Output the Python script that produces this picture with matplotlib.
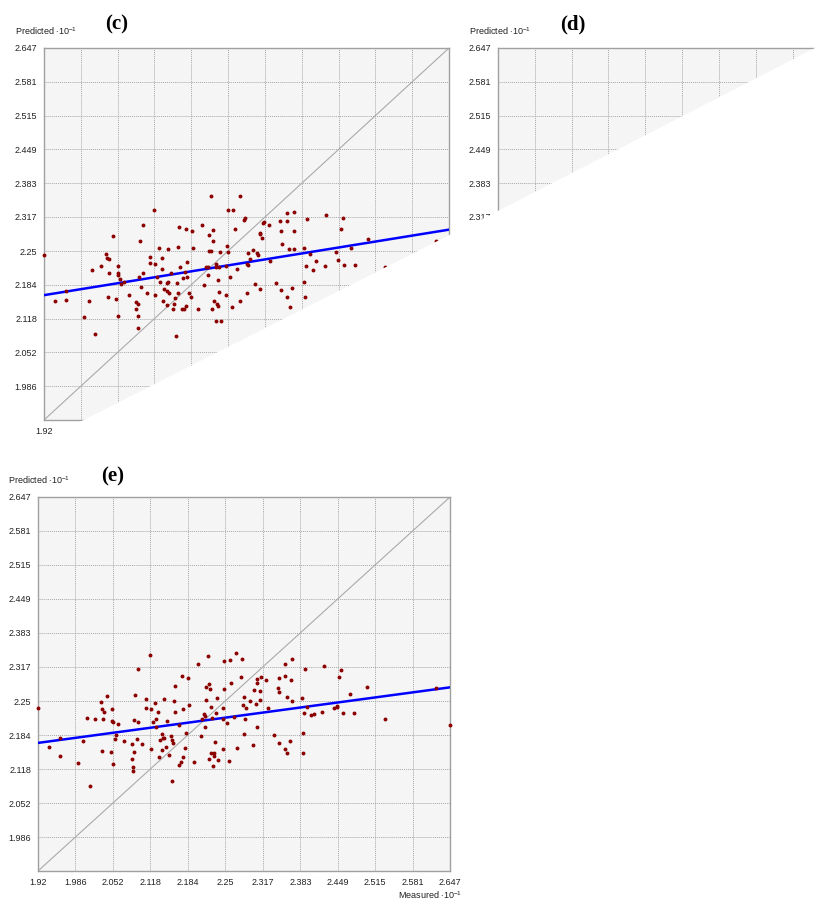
import numpy as np
import matplotlib.pyplot as plt
from matplotlib.patches import Polygon

plt.rcParams['font.family'] = ['Liberation Sans', 'DejaVu Sans']
plt.rcParams['mathtext.fontset'] = 'custom'
plt.rcParams['mathtext.rm'] = 'Liberation Sans'

# axis ticks (same on both axes)
tick_labels = ["1.92", "1.986", "2.052", "2.118", "2.184", "2.25",
               "2.317", "2.383", "2.449", "2.515", "2.581", "2.647"]
tick_values = [float(t) for t in tick_labels]

# panel (c) data (visible points)
c_measured = [
    1.920, 1.940, 1.960, 1.960, 1.991, 2.000, 2.007, 2.012, 2.022, 2.032,
    2.033, 2.037, 2.034, 2.037, 2.043, 2.050, 2.052, 2.052, 2.053, 2.053,
    2.056, 2.059, 2.063, 2.073, 2.086, 2.088, 2.086, 2.088, 2.089, 2.090,
    2.092, 2.094, 2.098, 2.098, 2.104, 2.111, 2.111, 2.117, 2.119, 2.119,
    2.123, 2.127, 2.128, 2.131, 2.132, 2.134, 2.135, 2.140, 2.140, 2.141,
    2.143, 2.143, 2.144, 2.148, 2.152, 2.153, 2.156, 2.157, 2.159, 2.160,
    2.161, 2.162, 2.164, 2.168, 2.170, 2.172, 2.173, 2.175, 2.175, 2.177,
    2.177, 2.180, 2.184, 2.186, 2.188, 2.196, 2.203, 2.208, 2.211, 2.214,
    2.215, 2.216, 2.217, 2.219, 2.220, 2.222, 2.223, 2.224, 2.225, 2.228,
    2.228, 2.229, 2.231, 2.232, 2.232, 2.234, 2.235, 2.236, 2.238, 2.247,
    2.247, 2.249, 2.250, 2.251, 2.254, 2.257, 2.260, 2.262, 2.266, 2.271,
    2.272, 2.279, 2.280, 2.284, 2.285, 2.286, 2.287, 2.289, 2.295, 2.299,
    2.302, 2.304, 2.307, 2.308, 2.308, 2.311, 2.313, 2.315, 2.324, 2.326,
    2.336, 2.344, 2.345, 2.345, 2.347, 2.356, 2.356, 2.357, 2.360, 2.362,
    2.366, 2.368, 2.368, 2.369, 2.387, 2.387, 2.389, 2.390, 2.392, 2.397,
    2.402, 2.408, 2.424, 2.426, 2.445, 2.448, 2.453, 2.456, 2.459, 2.471,
    2.479, 2.502, 2.533, 2.624]
c_predicted = [
    2.243, 2.152, 2.173, 2.155, 2.121, 2.152, 2.214, 2.088, 2.221, 2.245,
    2.237, 2.235, 2.161, 2.207, 2.279, 2.157, 2.221, 2.207, 2.124, 2.204,
    2.195, 2.185, 2.189, 2.165, 2.150, 2.147, 2.136, 2.099, 2.124, 2.199,
    2.270, 2.180, 2.301, 2.207, 2.168, 2.238, 2.226, 2.330, 2.224, 2.164,
    2.200, 2.256, 2.189, 2.215, 2.237, 2.152, 2.176, 2.173, 2.145, 2.188,
    2.189, 2.255, 2.169, 2.208, 2.137, 2.147, 2.158, 2.084, 2.188, 2.168,
    2.258, 2.297, 2.219, 2.136, 2.198, 2.136, 2.210, 2.294, 2.142, 2.200,
    2.229, 2.168, 2.161, 2.289, 2.256, 2.137, 2.301, 2.183, 2.219, 2.219,
    2.204, 2.251, 2.282, 2.250, 2.358, 2.136, 2.292, 2.270, 2.152, 2.219,
    2.224, 2.113, 2.146, 2.143, 2.194, 2.219, 2.170, 2.249, 2.114, 2.164,
    2.221, 2.261, 2.249, 2.330, 2.199, 2.140, 2.330, 2.294, 2.215, 2.358,
    2.152, 2.310, 2.314, 2.169, 2.225, 2.247, 2.223, 2.235, 2.253, 2.186,
    2.247, 2.243, 2.284, 2.176, 2.286, 2.275, 2.305, 2.306, 2.301, 2.230,
    2.188, 2.309, 2.174, 2.289, 2.264, 2.325, 2.309, 2.161, 2.254, 2.140,
    2.178, 2.289, 2.254, 2.326, 2.257, 2.189, 2.161, 2.221, 2.312, 2.245,
    2.214, 2.230, 2.221, 2.320, 2.249, 2.232, 2.294, 2.314, 2.222, 2.256,
    2.222, 2.273, 2.219, 2.269]
c_fit_x = [1.92, 2.647]
c_fit_y = [2.164, 2.292]

# panel (e) data
e_measured = [
    1.920, 1.939, 1.959, 1.959, 1.991, 1.999, 2.006, 2.011, 2.021, 2.032,
    2.033, 2.033, 2.035, 2.036, 2.042, 2.049, 2.051, 2.051, 2.052, 2.053,
    2.056, 2.057, 2.062, 2.072, 2.086, 2.086, 2.088, 2.088, 2.090, 2.090,
    2.091, 2.095, 2.096, 2.096, 2.103, 2.110, 2.111, 2.117, 2.119, 2.119,
    2.123, 2.126, 2.128, 2.129, 2.132, 2.133, 2.135, 2.138, 2.139, 2.141,
    2.142, 2.143, 2.145, 2.147, 2.152, 2.154, 2.156, 2.157, 2.159, 2.160,
    2.162, 2.162, 2.169, 2.169, 2.173, 2.174, 2.175, 2.176, 2.179, 2.182,
    2.185, 2.187, 2.196, 2.203, 2.208, 2.209, 2.213, 2.214, 2.215, 2.216,
    2.217, 2.220, 2.221, 2.222, 2.223, 2.225, 2.226, 2.227, 2.229, 2.230,
    2.230, 2.233, 2.234, 2.235, 2.238, 2.247, 2.247, 2.247, 2.249, 2.249,
    2.254, 2.257, 2.259, 2.261, 2.265, 2.270, 2.271, 2.279, 2.280, 2.281,
    2.283, 2.284, 2.286, 2.287, 2.294, 2.299, 2.301, 2.304, 2.306, 2.307,
    2.307, 2.311, 2.312, 2.314, 2.323, 2.326, 2.337, 2.344, 2.345, 2.346,
    2.346, 2.355, 2.356, 2.356, 2.360, 2.360, 2.365, 2.366, 2.368, 2.368,
    2.386, 2.387, 2.387, 2.389, 2.391, 2.395, 2.402, 2.407, 2.422, 2.425,
    2.443, 2.447, 2.448, 2.451, 2.454, 2.458, 2.470, 2.477, 2.500, 2.532,
    2.622, 2.647]
e_predicted = [
    2.236, 2.161, 2.179, 2.144, 2.130, 2.173, 2.218, 2.086, 2.215, 2.248,
    2.234, 2.154, 2.216, 2.230, 2.260, 2.152, 2.234, 2.211, 2.209, 2.128,
    2.176, 2.184, 2.206, 2.173, 2.166, 2.138, 2.123, 2.114, 2.213, 2.152,
    2.263, 2.176, 2.209, 2.312, 2.166, 2.236, 2.255, 2.340, 2.234, 2.158,
    2.210, 2.246, 2.200, 2.215, 2.229, 2.142, 2.175, 2.187, 2.155, 2.179,
    2.178, 2.255, 2.161, 2.211, 2.146, 2.182, 2.095, 2.174, 2.169, 2.251,
    2.279, 2.230, 2.127, 2.204, 2.132, 2.299, 2.142, 2.234, 2.160, 2.189,
    2.295, 2.242, 2.132, 2.322, 2.182, 2.216, 2.225, 2.200, 2.221, 2.277,
    2.253, 2.338, 2.138, 2.284, 2.274, 2.150, 2.239, 2.218, 2.124, 2.150,
    2.143, 2.171, 2.228, 2.257, 2.135, 2.158, 2.237, 2.215, 2.328, 2.273,
    2.207, 2.133, 2.331, 2.286, 2.219, 2.343, 2.160, 2.298, 2.332, 2.243,
    2.186, 2.258, 2.215, 2.236, 2.250, 2.165, 2.272, 2.244, 2.293, 2.286,
    2.199, 2.253, 2.270, 2.297, 2.292, 2.236, 2.185, 2.275, 2.296, 2.169,
    2.267, 2.299, 2.323, 2.158, 2.259, 2.149, 2.172, 2.291, 2.251, 2.332,
    2.256, 2.189, 2.149, 2.228, 2.312, 2.238, 2.224, 2.226, 2.230, 2.318,
    2.237, 2.239, 2.241, 2.297, 2.310, 2.228, 2.265, 2.228, 2.277, 2.216,
    2.275, 2.204]
e_fit_x = [1.92, 2.647]
e_fit_y = [2.169, 2.277]

W, H = 815, 902
fig = plt.figure(figsize=(W / 100, H / 100), dpi=100)


def px(x, y):
    return (x / W, 1 - y / H)


def make_axes(left, top, width, height, xlabels=True):
    ax = fig.add_axes([left / W, 1 - (top + height) / H, width / W, height / H])
    ax.set_facecolor('#F5F5F5')
    ax.set_xlim(tick_values[0], tick_values[-1])
    ax.set_ylim(tick_values[0], tick_values[-1])
    ax.set_xticks(tick_values)
    ax.set_yticks(tick_values)
    ax.set_xticklabels(tick_labels if xlabels else [])
    ax.set_yticklabels([''] + tick_labels[1:])
    ax.tick_params(length=0, labelsize=6.5, pad=5, colors='#222222')
    ax.grid(True, color='#A8A8A8', linestyle=(0, (1, 1)), linewidth=0.7)
    ax.set_axisbelow(True)
    for s in ax.spines.values():
        s.set_color('#A0A0A0')
        s.set_linewidth(1.0)
    return ax


def draw_panel(ax, xs, ys, fx, fy):
    lim = [tick_values[0], tick_values[-1]]
    ax.plot(lim, lim, color='#AAAAAA', linewidth=0.8, zorder=2)
    ax.plot(fx, fy, color='#0000FF', linewidth=1.8, zorder=3)
    ax.plot(xs, ys, 'o', color='#8B0000', markersize=2.8,
            markeredgewidth=0, zorder=4, clip_on=False)


# (c)
ax_c = make_axes(44, 48, 405, 372)
draw_panel(ax_c, c_measured, c_predicted, c_fit_x, c_fit_y)

# (d) - mostly cut away
ax_d = make_axes(498, 48, 405, 372, xlabels=False)

# (e)
ax_e = make_axes(38, 497, 412, 374)
draw_panel(ax_e, e_measured, e_predicted, e_fit_x, e_fit_y)

# white cut-outs over (c) and (d)
cut_c = Polygon([px(0, 462), px(48, 438), px(470, 224.6), px(470, 462)],
                closed=True, transform=fig.transFigure, facecolor='white',
                edgecolor='none', zorder=10)
cut_d = Polygon([px(460, 230.5), px(815, 48), px(815, 470), px(460, 470)],
                closed=True, transform=fig.transFigure, facecolor='white',
                edgecolor='none', zorder=10)
fig.add_artist(cut_c)
fig.add_artist(cut_d)

# labels
ylab = 'Predicted $\\cdot$10$^{-1}$'
fig.text(*px(15, 31), ylab, fontsize=6.5, va='center', ha='left', color='#222222')
fig.text(*px(469, 31), ylab, fontsize=6.5, va='center', ha='left', color='#222222', zorder=11)
fig.text(*px(8, 480), ylab, fontsize=6.5, va='center', ha='left', color='#222222')
fig.text(*px(462, 895), 'Measured $\\cdot$10$^{-1}$', fontsize=6.5, va='center',
         ha='right', color='#222222')

for lab, (x, y) in [('(c)', (117, 24)), ('(d)', (573, 24)), ('(e)', (113, 476))]:
    fig.text(*px(x, y), lab, fontsize=15, fontweight='bold', va='center', ha='center',
             family=['Liberation Serif', 'DejaVu Serif'], zorder=11)

fig.savefig('out.png', dpi=100)
